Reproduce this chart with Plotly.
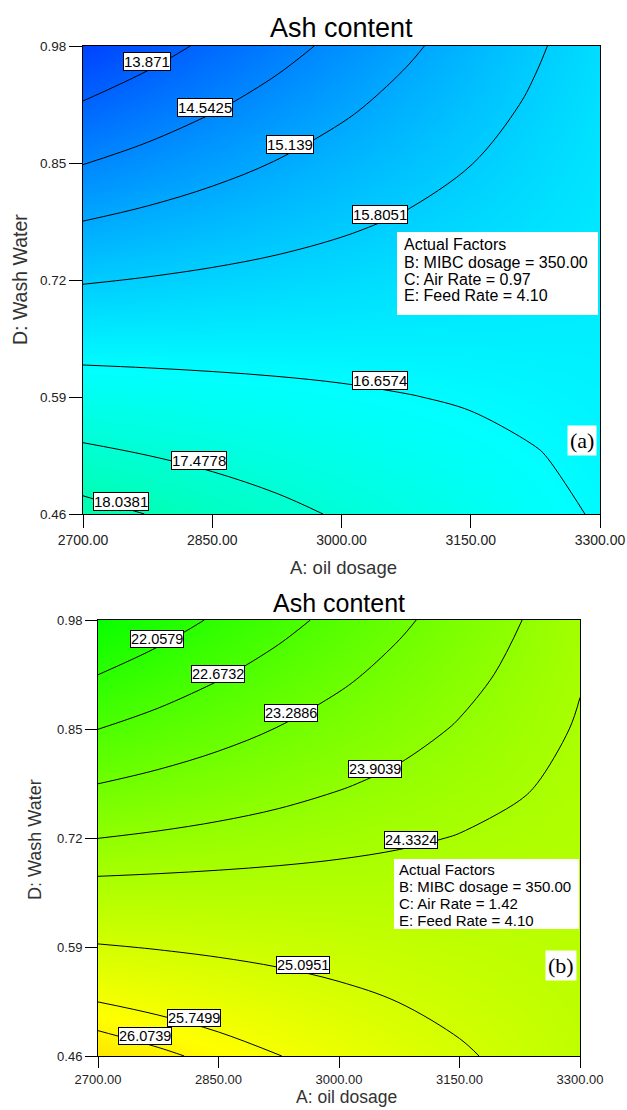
import plotly.graph_objects as go

W, H = 627, 1110

# Factor grid: A (oil dosage) columns, D (wash water) rows (bottom row first)
oil_dosage = [2700, 2775, 2850, 2925, 3000, 3075, 3150, 3225, 3300]
wash_water = [0.46, 0.525, 0.59, 0.655, 0.72, 0.785, 0.85, 0.915, 0.98]

# Predicted ash content, air rate 0.97
ash_a = [
    [18.230, 18.028, 17.825, 17.622, 17.420, 17.218, 17.015, 16.813, 16.610],
    [17.613, 17.479, 17.346, 17.212, 17.079, 16.945, 16.812, 16.678, 16.545],
    [16.995, 16.931, 16.866, 16.802, 16.738, 16.673, 16.609, 16.544, 16.480],
    [16.378, 16.382, 16.387, 16.392, 16.396, 16.401, 16.406, 16.410, 16.415],
    [15.760, 15.834, 15.908, 15.981, 16.055, 16.129, 16.203, 16.276, 16.350],
    [15.143, 15.285, 15.428, 15.571, 15.714, 15.857, 15.999, 16.142, 16.285],
    [14.525, 14.737, 14.949, 15.161, 15.373, 15.584, 15.796, 16.008, 16.220],
    [13.908, 14.188, 14.469, 14.750, 15.031, 15.312, 15.593, 15.874, 16.155],
    [13.290, 13.640, 13.990, 14.340, 14.690, 15.040, 15.390, 15.740, 16.090],
]

# Predicted ash content, air rate 1.42
ash_b = [
    [26.360, 26.160, 25.960, 25.760, 25.560, 25.360, 25.160, 24.960, 24.760],
    [25.745, 25.614, 25.483, 25.351, 25.220, 25.089, 24.958, 24.826, 24.695],
    [25.130, 25.068, 25.005, 24.943, 24.880, 24.818, 24.755, 24.693, 24.630],
    [24.515, 24.521, 24.528, 24.534, 24.540, 24.546, 24.553, 24.559, 24.565],
    [23.900, 23.975, 24.050, 24.125, 24.200, 24.275, 24.350, 24.425, 24.500],
    [23.285, 23.429, 23.573, 23.716, 23.860, 24.004, 24.148, 24.291, 24.435],
    [22.670, 22.883, 23.095, 23.308, 23.520, 23.733, 23.945, 24.158, 24.370],
    [22.055, 22.336, 22.618, 22.899, 23.180, 23.461, 23.743, 24.024, 24.305],
    [21.440, 21.790, 22.140, 22.490, 22.840, 23.190, 23.540, 23.890, 24.240],
]

# Contour levels and where their value tags sit (A, D)
levels_a = [13.871, 14.5425, 15.139, 15.8051, 16.6574, 17.4778, 18.0381]
tag_a_oil = [2774, 2842, 2940, 3045, 3045, 2835, 2744]
tag_a_wash = [0.963, 0.912, 0.871, 0.793, 0.608, 0.519, 0.474]

levels_b = [22.0579, 22.6732, 23.2886, 23.9039, 24.3324, 25.0951, 25.7499, 26.0739]
tag_b_oil = [2774, 2849, 2940, 3045, 3090, 2955, 2820, 2759]
tag_b_wash = [0.957, 0.916, 0.869, 0.802, 0.718, 0.568, 0.505, 0.484]

oil_ticks = [2700, 2850, 3000, 3150, 3300]
wash_ticks = [0.46, 0.59, 0.72, 0.85, 0.98]

factors_a = ["Actual Factors", "B: MIBC dosage = 350.00", "C: Air Rate = 0.97", "E: Feed Rate = 4.10"]
factors_b = ["Actual Factors", "B: MIBC dosage = 350.00", "C: Air Rate = 1.42", "E: Feed Rate = 4.10"]

SANS = "Liberation Sans, Arial, sans-serif"
SERIF = "Liberation Serif, Times New Roman, serif"

# Shared response colour ramp: blue -> cyan -> green -> yellow -> red
ramp = [[0.0, "rgb(0,0,255)"], [0.25, "rgb(0,255,255)"], [0.5, "rgb(0,255,0)"],
        [0.75, "rgb(255,255,0)"], [1.0, "rgb(255,0,0)"]]
ZMIN, ZMAX = 12.1, 30.5


def px(x):
    return x / W


def py(y):
    return 1 - y / H


fig = go.Figure()


def add_panel(z, levels, xa, ya):
    fig.add_trace(go.Heatmap(
        x=oil_dosage, y=wash_water, z=z, zsmooth="best",
        colorscale=ramp, zmin=ZMIN, zmax=ZMAX, showscale=False,
        hoverinfo="skip", xaxis=xa, yaxis=ya))
    for lv in levels:
        fig.add_trace(go.Contour(
            x=oil_dosage, y=wash_water, z=z, autocontour=False,
            contours=dict(start=lv, end=lv, size=1, coloring="none", showlabels=False),
            line=dict(color="black", width=1, smoothing=1.0),
            showscale=False, hoverinfo="skip", xaxis=xa, yaxis=ya))


add_panel(ash_a, levels_a, "x", "y")
add_panel(ash_b, levels_b, "x2", "y2")


def axis_style(domain, rng, ticks, fsize, anchor, tlen):
    return dict(domain=domain, range=rng, tickvals=ticks, tickformat=".2f",
                ticks="outside", ticklen=tlen, tickwidth=1, tickcolor="black",
                showline=True, linecolor="black", linewidth=1, mirror=True,
                showgrid=False, zeroline=False, anchor=anchor, automargin=False,
                tickfont=dict(family=SANS, size=fsize, color="#222"))


fig.update_layout(
    width=W, height=H, margin=dict(l=0, r=0, t=0, b=0),
    paper_bgcolor="white", plot_bgcolor="white", showlegend=False,
    xaxis=axis_style([px(83), px(600)], [2700, 3300], oil_ticks, 14, "y", 13),
    yaxis=axis_style([py(514), py(46)], [0.46, 0.98], wash_ticks, 13.5, "x", 13),
    xaxis2=axis_style([px(98), px(580)], [2700, 3300], oil_ticks, 13, "y2", 11),
    yaxis2=axis_style([py(1056), py(620)], [0.46, 0.98], wash_ticks, 13, "x2", 12),
)

ann = []

# contour value tags
for lv, xo, yw in zip(levels_a, tag_a_oil, tag_a_wash):
    ann.append(dict(x=xo, y=yw, xref="x", yref="y", text=str(lv), showarrow=False,
                    xanchor="center", yanchor="middle",
                    font=dict(family=SANS, size=15, color="black"),
                    bgcolor="white", bordercolor="black", borderwidth=1, borderpad=0))
for lv, xo, yw in zip(levels_b, tag_b_oil, tag_b_wash):
    ann.append(dict(x=xo, y=yw, xref="x2", yref="y2", text=str(lv), showarrow=False,
                    xanchor="center", yanchor="middle",
                    font=dict(family=SANS, size=14.5, color="black"),
                    bgcolor="white", bordercolor="black", borderwidth=1, borderpad=0))


# titles and axis titles
def text_at(x, y, s, size, angle=0, color="black", family=SANS):
    ann.append(dict(x=px(x), y=py(y), xref="paper", yref="paper", text=s,
                    showarrow=False, textangle=angle, xanchor="center", yanchor="middle",
                    font=dict(family=family, size=size, color=color)))


text_at(341, 28, "Ash content", 27)
text_at(339, 603, "Ash content", 25)
text_at(343, 567, "A: oil dosage", 18.5, color="#333")
text_at(346, 1097, "A: oil dosage", 17.5, color="#333")
text_at(20, 280, "D: Wash Water", 19.5, angle=-90, color="#333")
text_at(35, 840, "D: Wash Water", 18, angle=-90, color="#333")

# actual-factor boxes
shapes = [
    dict(type="rect", xref="paper", yref="paper", x0=px(397), x1=px(598), y0=py(315), y1=py(232),
         fillcolor="white", line=dict(width=0), layer="above"),
    dict(type="rect", xref="paper", yref="paper", x0=px(394), x1=px(579), y0=py(929), y1=py(859),
         fillcolor="white", line=dict(width=0), layer="above"),
]
for i, s in enumerate(factors_a):
    ann.append(dict(x=px(402), y=py(245 + i * 17), xref="paper", yref="paper", text=s,
                    showarrow=False, xanchor="left", yanchor="middle",
                    font=dict(family=SANS, size=16, color="black")))
for i, s in enumerate(factors_b):
    ann.append(dict(x=px(397), y=py(869 + i * 17), xref="paper", yref="paper", text=s,
                    showarrow=False, xanchor="left", yanchor="middle",
                    font=dict(family=SANS, size=15, color="black")))

# panel letters
ann.append(dict(x=px(582), y=py(441), xref="paper", yref="paper", text="(a)", showarrow=False,
                xanchor="center", yanchor="middle",
                font=dict(family=SERIF, size=22, color="black"), bgcolor="white", borderpad=2))
ann.append(dict(x=px(561), y=py(965), xref="paper", yref="paper", text="(b)", showarrow=False,
                xanchor="center", yanchor="middle",
                font=dict(family=SERIF, size=22, color="black"), bgcolor="white", borderpad=2))

fig.update_layout(annotations=ann, shapes=shapes)
fig.write_html("out.html")
